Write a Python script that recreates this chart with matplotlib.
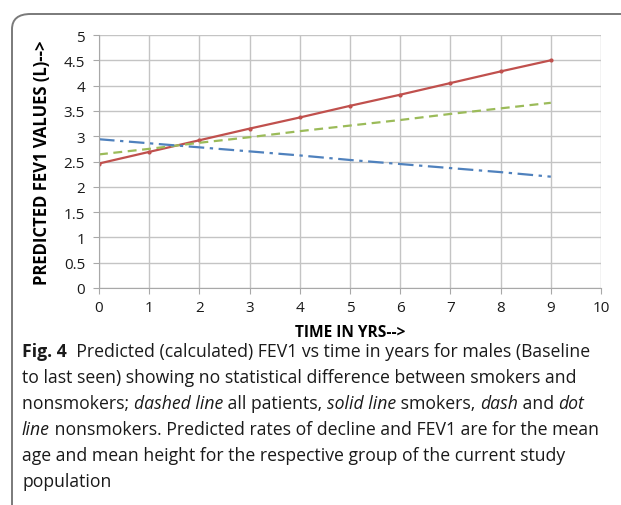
import matplotlib
matplotlib.use("Agg")
import matplotlib.pyplot as plt
from matplotlib.patches import FancyBboxPatch

years = [0, 1, 2, 3, 4, 5, 6, 7, 8, 9]
smokers = [2.46, 2.69, 2.92, 3.15, 3.37, 3.60, 3.82, 4.05, 4.28, 4.50]
all_patients = [2.64, 2.75, 2.87, 2.98, 3.10, 3.21, 3.32, 3.44, 3.55, 3.66]
nonsmokers = [2.94, 2.86, 2.78, 2.70, 2.62, 2.53, 2.45, 2.37, 2.29, 2.20]
xticks = [0, 1, 2, 3, 4, 5, 6, 7, 8, 9, 10]
yticks = [0, 0.5, 1, 1.5, 2, 2.5, 3, 3.5, 4, 4.5, 5]
ytick_labels = ["0", "0.5", "1", "1.5", "2", "2.5", "3", "3.5", "4", "4.5", "5"]

caption_lines = [
    [("Fig. 4", "bold"), ("  Predicted (calculated) FEV1 vs time in years for males (Baseline", "normal")],
    [("to last seen) showing no statistical difference between smokers and", "normal")],
    [("nonsmokers; ", "normal"), ("dashed line", "italic"), (" all patients, ", "normal"),
     ("solid line", "italic"), (" smokers, ", "normal"), ("dash", "italic"), (" and ", "normal"),
     ("dot", "italic")],
    [("line", "italic"), (" nonsmokers. Predicted rates of decline and FEV1 are for the mean", "normal")],
    [("age and mean height for the respective group of the current study", "normal")],
    [("population", "normal")],
]

W, H = 621, 506
fig = plt.figure(figsize=(W / 100, H / 100), dpi=100)
fig.patch.set_facecolor("white")

# rounded frame
frame = FancyBboxPatch((12 / W, -0.2), 1.2, 1 - 15 / H + 0.2,
                       boxstyle="round,pad=0,rounding_size=0.03",
                       transform=fig.transFigure, facecolor="none",
                       edgecolor="#7a7a7a", linewidth=1.4, clip_on=False)
fig.patches.append(frame)

ax = fig.add_axes([99 / W, 1 - 289 / H, (601 - 99) / W, (289 - 36) / H])
ax.plot(years, smokers, color="#c0504d", lw=1.6, marker="o", markersize=2, solid_capstyle="butt")
ax.plot(years, all_patients, color="#9bbb59", lw=1.6, linestyle=(0, (4, 2.5)))
ax.plot(years, nonsmokers, color="#4f81bd", lw=1.6, linestyle=(0, (7, 2.5, 1.5, 2.5)))

ax.set_xlim(0, 10)
ax.set_ylim(0, 5)
ax.set_xticks(xticks)
ax.set_yticks(yticks)
ax.set_yticklabels(ytick_labels)
ax.grid(True, color="#c4c4c4", lw=1.0)
ax.set_axisbelow(True)
for s in ["top", "right"]:
    ax.spines[s].set_visible(False)
for s in ["left", "bottom"]:
    ax.spines[s].set_color("#a8a8a8")
ax.tick_params(axis="both", length=4, color="#a8a8a8", labelsize=11, labelcolor="#1a1a1a")
ax.tick_params(axis="y", pad=6)
ax.tick_params(axis="x", pad=5)
for lab in ax.get_xticklabels() + ax.get_yticklabels():
    lab.set_family("Open Sans")

ax.set_xlabel("TIME IN YRS-->", fontsize=11.2, fontweight="bold", family="Open Sans", labelpad=6)
ax.set_ylabel("PREDICTED FEV1 VALUES (L)-->", fontsize=12, fontweight="bold", family="Open Sans", labelpad=9)

# caption with mixed styles
fig.canvas.draw()
renderer = fig.canvas.get_renderer()
cap_x = 22
lines_y = [357, 383, 409, 435, 461, 487]
fs = 12.7
for runs, yb in zip(caption_lines, lines_y):
    x = cap_x
    for txt, sty in runs:
        kw = dict(fontsize=fs, family="Open Sans", va="baseline", ha="left", color="#1a1a1a")
        if sty == "bold":
            kw["fontweight"] = "bold"
        elif sty == "italic":
            kw["style"] = "italic"
        t = fig.text(x / W, 1 - yb / H, txt, **kw)
        bb = t.get_window_extent(renderer)
        x += bb.width

fig.savefig("out.png", dpi=100)
